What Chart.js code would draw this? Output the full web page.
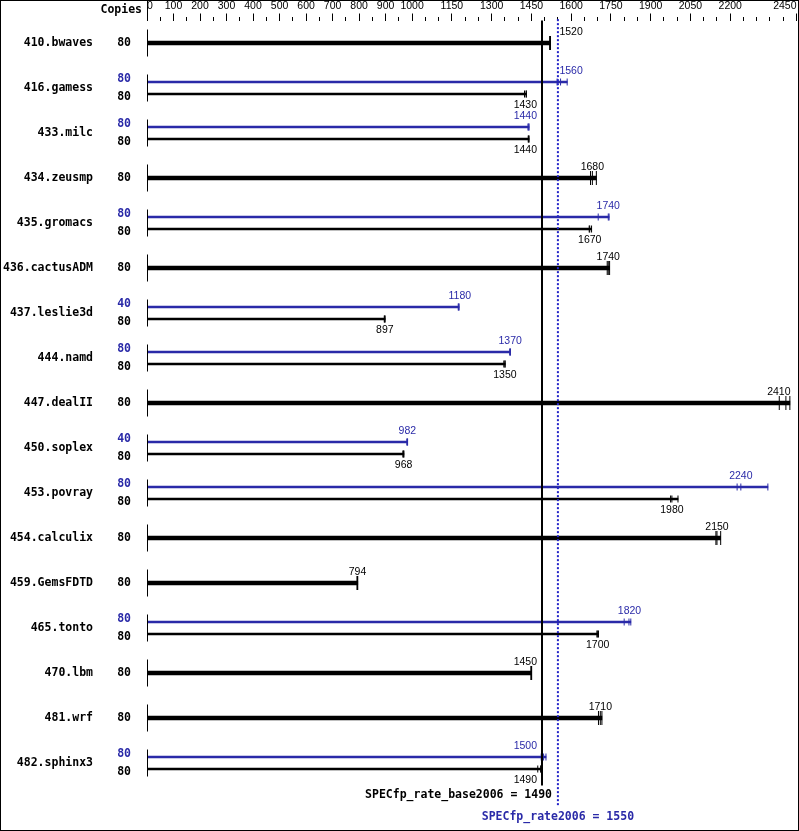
<!DOCTYPE html>
<html>
<head>
<meta charset="utf-8">
<title>SPECfp_rate2006</title>
<script src="https://cdn.jsdelivr.net/npm/chart.js@4.4.1/dist/chart.umd.min.js"></script>
<style>
  body { margin: 0; background: #fff; }
  canvas { display: block; }
</style>
</head>
<body>
<canvas id="specChart" width="799" height="831"></canvas>
<script>
// benchmarks, top to bottom
var BENCHMARKS = ['410.bwaves', '416.gamess', '433.milc', '434.zeusmp', '435.gromacs',
	'436.cactusADM', '437.leslie3d', '444.namd', '447.dealII', '450.soplex', '453.povray',
	'454.calculix', '459.GemsFDTD', '465.tonto', '470.lbm', '481.wrf', '482.sphinx3'];

var BASE_COPIES = [80, 80, 80, 80, 80, 80, 80, 80, 80, 80, 80, 80, 80, 80, 80, 80, 80];
var PEAK_COPIES = [null, 80, 80, null, 80, null, 40, 80, null, 40, 80, null, null, 80, null, null, 80];

// the three runs of each benchmark (rate)
var BASE_RUNS = [
	[1519, 1520, 1522], [1424, 1430, 1431], [1438, 1440, 1441], [1673, 1680, 1695],
	[1668, 1670, 1677], [1736, 1740, 1745], [895, 897, 898], [1346, 1350, 1351],
	[2385, 2410, 2425], [965, 968, 969], [1975, 1980, 2003], [2146, 2150, 2164],
	[792, 794, 795], [1697, 1700, 1703], [1448, 1450, 1451], [1703, 1710, 1716],
	[1474, 1485, 1486]
];
var PEAK_RUNS = [
	null, [1547, 1560, 1585], [1437, 1440, 1441], null,
	[1702, 1740, 1743], null, [1174, 1176, 1177], [1368, 1370, 1371],
	null, [980, 982, 983], [2226, 2240, 2342], null,
	null, [1800, 1818, 1825], null, null,
	[1487, 1496, 1505]
];

// printed ratios
var BASE_RATIOS = [1520, 1430, 1440, 1680, 1670, 1740, 897, 1350, 2410, 968, 1980, 2150, 794, 1700, 1450, 1710, 1490];
var PEAK_RATIOS = [null, 1560, 1440, null, 1740, null, 1180, 1370, null, 982, 2240, null, null, 1820, null, null, 1500];

var AXIS_TICKS = [0, 100, 200, 300, 400, 500, 600, 700, 800, 900, 1000, 1150, 1300, 1450, 1600, 1750, 1900, 2050, 2200, 2450];
var AXIS_MAX = 2450;

var SPEC_BASE = 1490;
var SPEC_PEAK = 1550;

var BLACK = '#000000';
var BLUE = '#2a2aa8';
var DOT_BLUE = '#2323c8';
var PAIR_OFFSET = 6 / 45;
var BOLD_FONT = 'bold 11.5px "DejaVu Sans Mono"';
var VALUE_FONT = '10.5px "Liberation Sans"';

function maxOf(runs) {
	return Math.max.apply(null, runs);
}

function buildBars() {
	var single = [], base = [], peak = [];
	for (var i = 0; i < BENCHMARKS.length; i++) {
		if (PEAK_RUNS[i]) {
			peak.push({x: [0, maxOf(PEAK_RUNS[i])], y: i - PAIR_OFFSET});
			base.push({x: [0, maxOf(BASE_RUNS[i])], y: i + PAIR_OFFSET});
		} else {
			single.push({x: [0, maxOf(BASE_RUNS[i])], y: i});
		}
	}
	return {single: single, base: base, peak: peak};
}

function buildRuns() {
	var single = [], base = [], peak = [];
	for (var i = 0; i < BENCHMARKS.length; i++) {
		if (PEAK_RUNS[i]) {
			PEAK_RUNS[i].forEach(function(v) { peak.push({x: v, y: i - PAIR_OFFSET}); });
			BASE_RUNS[i].forEach(function(v) { base.push({x: v, y: i + PAIR_OFFSET}); });
		} else {
			BASE_RUNS[i].forEach(function(v) { single.push({x: v, y: i}); });
		}
	}
	return {single: single, base: base, peak: peak};
}

function barDataset(label, data, color, thickness) {
	return {
		type: 'bar', label: label, data: data,
		backgroundColor: color, borderWidth: 0,
		barThickness: thickness, maxBarThickness: thickness,
		grouped: false, order: 2
	};
}

function runDataset(label, data, color, halfLength) {
	return {
		type: 'scatter', label: label, data: data,
		pointStyle: 'line', pointRotation: 90, pointRadius: halfLength,
		pointBorderColor: color, pointBorderWidth: 1,
		borderColor: color, backgroundColor: color, order: 1
	};
}

function lineDataset(label, value, from, to, color, dash) {
	return {
		type: 'line', label: label,
		data: [{x: value, y: from}, {x: value, y: to}],
		borderColor: color, borderWidth: 2, borderDash: dash,
		pointRadius: 0, fill: false, clip: false, order: 0
	};
}

// keep the top axes from pushing the plot area in
function fitTopAxis(height) {
	return function(scale) {
		scale.height = height;
		scale.paddingLeft = 0;
		scale.paddingRight = 0;
	};
}

// decorations: names, copies, printed values, summary lines text
var specDecor = {
	id: 'specDecor',
	beforeDraw: function(chart) {
		var ctx = chart.ctx;
		ctx.save();
		ctx.fillStyle = '#fff';
		ctx.fillRect(0, 0, chart.width, chart.height);
		ctx.restore();
	},
	afterDraw: function(chart) {
		var ctx = chart.ctx;
		var xs = chart.scales.x, ys = chart.scales.y;
		var x0 = Math.round(xs.getPixelForValue(0)) + 0.5;
		var bandL = xs.getPixelForValue(SPEC_BASE) - 5;
		var bandR = xs.getPixelForValue(SPEC_PEAK) + 1.5;
		var rightLimit = chart.chartArea.right - 6;

		ctx.save();
		ctx.textBaseline = 'middle';

		function drawValue(text, value, yc, color) {
			ctx.font = VALUE_FONT;
			ctx.fillStyle = color;
			var w = ctx.measureText(text).width;
			var left = xs.getPixelForValue(value) - w / 2;
			if (left < bandR && left + w > bandL) {
				var moveL = left + w - bandL, moveR = bandR - left;
				left = moveL < moveR ? left - moveL : bandR;
			}
			if (left + w > rightLimit) left = rightLimit - w;
			ctx.textAlign = 'left';
			ctx.fillText(text, left, yc);
		}

		// header
		ctx.font = BOLD_FONT;
		ctx.fillStyle = BLACK;
		ctx.textAlign = 'right';
		ctx.fillText('Copies', 142, 10);

		// zero line through the axis
		ctx.strokeStyle = BLACK;
		ctx.lineWidth = 1;
		ctx.beginPath();
		ctx.moveTo(x0, 0);
		ctx.lineTo(x0, chart.chartArea.top);
		ctx.stroke();

		for (var i = 0; i < BENCHMARKS.length; i++) {
			var yc = ys.getPixelForValue(i);
			ctx.strokeStyle = BLACK;
			ctx.beginPath();
			ctx.moveTo(x0, ys.getPixelForValue(i - 0.3));
			ctx.lineTo(x0, ys.getPixelForValue(i + 0.3));
			ctx.stroke();

			ctx.font = BOLD_FONT;
			ctx.textAlign = 'right';
			ctx.fillStyle = BLACK;
			ctx.fillText(BENCHMARKS[i], 93, yc);

			if (PEAK_RUNS[i]) {
				var yPeak = ys.getPixelForValue(i - PAIR_OFFSET);
				var yBase = ys.getPixelForValue(i + PAIR_OFFSET);
				ctx.fillStyle = BLUE;
				ctx.fillText(String(PEAK_COPIES[i]), 131, yc - 8.5);
				ctx.fillStyle = BLACK;
				ctx.fillText(String(BASE_COPIES[i]), 131, yc + 9);
				drawValue(String(PEAK_RATIOS[i]), PEAK_RATIOS[i], yPeak - 10.5, BLUE);
				drawValue(String(BASE_RATIOS[i]), BASE_RATIOS[i], yBase + 11, BLACK);
			} else {
				ctx.fillText(String(BASE_COPIES[i]), 131, yc);
				drawValue(String(BASE_RATIOS[i]), BASE_RATIOS[i], yc - 11, BLACK);
			}
		}

		// summary
		var bottom = chart.chartArea.bottom;
		ctx.font = BOLD_FONT;
		ctx.fillStyle = BLACK;
		ctx.textAlign = 'right';
		ctx.fillText('SPECfp_rate_base2006 = ' + SPEC_BASE, xs.getPixelForValue(SPEC_BASE) + 10, bottom + 9.5);
		ctx.fillStyle = BLUE;
		ctx.textAlign = 'center';
		ctx.fillText('SPECfp_rate2006 = ' + SPEC_PEAK, xs.getPixelForValue(SPEC_PEAK), bottom + 31.5);

		// frame
		ctx.strokeStyle = BLACK;
		ctx.strokeRect(0.5, 0.5, chart.width - 1, chart.height - 1);
		ctx.restore();
	}
};

function buildChart() {
	var bars = buildBars();
	var runs = buildRuns();
	var last = BENCHMARKS.length - 1;

	var canvas = document.getElementById('specChart').getContext('2d');
	new Chart(canvas, {
		type: 'bar',
		data: {
			datasets: [
				lineDataset('SPECfp_rate_base2006', SPEC_BASE, -0.5, last + 0.5, BLACK, []),
				lineDataset('SPECfp_rate2006', SPEC_PEAK, -0.53, last + 0.94, DOT_BLUE, [2, 2]),
				runDataset('Base runs', runs.single, BLACK, 7),
				runDataset('Base runs (paired)', runs.base, BLACK, 3.5),
				runDataset('Peak runs', runs.peak, BLUE, 3.5),
				barDataset('Base', bars.single, BLACK, 4),
				barDataset('Base (paired)', bars.base, BLACK, 2),
				barDataset('Peak', bars.peak, BLUE, 2)
			]
		},
		options: {
			indexAxis: 'y',
			responsive: false,
			animation: false,
			events: [],
			layout: {autoPadding: false, padding: {left: 147, right: 2.5, top: 0, bottom: 45.5}},
			plugins: {
				legend: {display: false},
				tooltip: {enabled: false},
				title: {display: false}
			},
			scales: {
				x: {
					type: 'linear', position: 'top', weight: 1,
					min: 0, max: AXIS_MAX, offset: false,
					afterBuildTicks: function(scale) {
						scale.ticks = AXIS_TICKS.map(function(v) { return {value: v}; });
					},
					afterFit: fitTopAxis(20.5),
					ticks: {
						autoSkip: false, maxRotation: 0, align: 'inner', padding: 1,
						color: BLACK, font: {family: 'Liberation Sans', size: 10.5},
						callback: function(value) { return String(value); }
					},
					grid: {drawOnChartArea: false, tickLength: 7, color: BLACK},
					border: {display: false}
				},
				xMinor: {
					type: 'linear', position: 'top', weight: 0,
					min: 0, max: AXIS_MAX, offset: false,
					afterFit: fitTopAxis(0),
					ticks: {display: false, stepSize: 50},
					grid: {drawOnChartArea: false, tickLength: 3.5, color: BLACK},
					border: {display: false}
				},
				y: {
					type: 'linear', display: false, reverse: true, offset: false,
					min: -0.5, max: last + 0.5
				}
			}
		},
		plugins: [specDecor]
	});
}

buildChart();
</script>
</body>
</html>
